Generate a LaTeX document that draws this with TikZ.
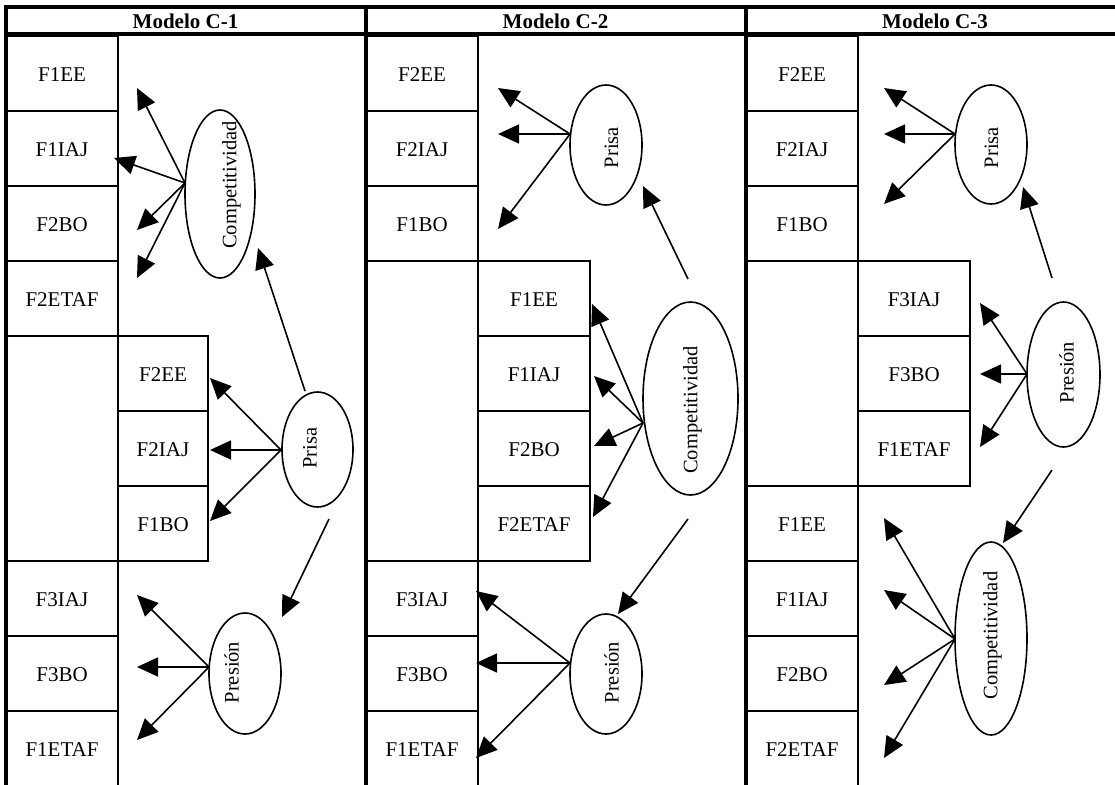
\documentclass[tikz,border=0pt]{standalone}
\usepackage{fontspec}
\setmainfont{Liberation Serif}
\usetikzlibrary{arrows.meta,shapes.geometric}
\begin{document}
\begin{tikzpicture}[x=1pt,y=-1pt,
  cell/.style={draw,line width=2pt,inner sep=0pt,minimum width=112pt,minimum height=75pt,
    font=\fontsize{21}{24}\selectfont,text height=15.5pt,text depth=0pt},
  narrow/.style={minimum width=90pt},
  head/.style={font=\fontsize{21}{24}\selectfont\bfseries,anchor=base,inner sep=0pt},
  ell/.style={draw,ellipse,line width=1.6pt,inner sep=0pt},
  etext/.style={rotate=90,inner sep=0pt,font=\fontsize{20.5}{24}\selectfont},
  arr/.style={line width=1.6pt,-{Triangle[length=21pt,width=19pt]}},
  frame/.style={line width=4pt}]
\useasboundingbox (0,0) rectangle (1115,784);
\fill[white] (0,0) rectangle (1115,784);
\clip (0,0) rectangle (1115,784);

% ---------- Modelo C-1 ----------
\node[cell] (a1) at (62,73.5)  {F1EE};
\node[cell] (a2) at (62,148.5) {F1IAJ};
\node[cell] (a3) at (62,223.5) {F2BO};
\node[cell] (a4) at (62,298.5) {F2ETAF};
\node[cell,minimum height=225pt] (a0) at (62,448.5) {};
\node[cell,narrow] (a5) at (163,373.5) {F2EE};
\node[cell,narrow] (a6) at (163,448.5) {F2IAJ};
\node[cell,narrow] (a7) at (163,523.5) {F1BO};
\node[cell] (a8) at (62,598.5)  {F3IAJ};
\node[cell] (a9) at (62,673.5)  {F3BO};
\node[cell] (a10) at (62,748.5) {F1ETAF};

\node[ell,minimum width=70pt,minimum height=168pt] (comp1) at (220,194) {};
\node[etext] (comp1t) at (231.5,185) {Competitividad};
\node[ell,minimum width=71pt,minimum height=115pt] (prisa1) at (317.5,449.5) {};
\node[etext] (prisa1t) at (310,448) {Prisa};
\node[ell,minimum width=72pt,minimum height=121pt] (pres1) at (245,673.5) {};
\node[etext] (pres1t) at (231.5,672.5) {Presión};

\coordinate (o11) at (185,183);
\coordinate (t11) at (137,88);
\coordinate (t12) at (114,158);
\coordinate (t13) at (137,230);
\coordinate (t14) at (137,278);
\foreach \t in {t11,t12,t13,t14} \draw[arr] (o11) -- (\t);

\coordinate (o12) at (281,450);
\coordinate (t15) at (210,378);
\coordinate (t16) at (210,450);
\coordinate (t17) at (210,521);
\foreach \t in {t15,t16,t17} \draw[arr] (o12) -- (\t);

\coordinate (s11) at (305,391);
\coordinate (e11) at (258,248);
\draw[arr] (s11) -- (e11);
\coordinate (s12) at (329,519);
\coordinate (e12) at (282,617);
\draw[arr] (s12) -- (e12);

\coordinate (o13) at (209,667);
\coordinate (t18) at (137,595);
\coordinate (t19) at (137,667);
\coordinate (t110) at (137,740);
\foreach \t in {t18,t19,t110} \draw[arr] (o13) -- (\t);

% ---------- Modelo C-2 ----------
\node[cell] (b1) at (422,73.5)  {F2EE};
\node[cell] (b2) at (422,148.5) {F2IAJ};
\node[cell] (b3) at (422,223.5) {F1BO};
\node[cell,minimum height=300pt] (b0) at (422,411) {};
\node[cell] (b4) at (534,298.5) {F1EE};
\node[cell] (b5) at (534,373.5) {F1IAJ};
\node[cell] (b6) at (534,448.5) {F2BO};
\node[cell] (b7) at (534,523.5) {F2ETAF};
\node[cell] (b8) at (422,598.5)  {F3IAJ};
\node[cell] (b9) at (422,673.5)  {F3BO};
\node[cell] (b10) at (422,748.5) {F1ETAF};

\node[ell,minimum width=72pt,minimum height=120pt] (prisa2) at (606,145) {};
\node[etext] (prisa2t) at (611.5,147.5) {Prisa};
\node[ell,minimum width=95pt,minimum height=193pt] (comp2) at (690.5,398.5) {};
\node[etext] (comp2t) at (692.5,410) {Competitividad};
\node[ell,minimum width=72pt,minimum height=120pt] (pres2) at (606,674) {};
\node[etext] (pres2t) at (611.5,672.5) {Presión};

\coordinate (o21) at (570,134);
\coordinate (t21) at (498,88);
\coordinate (t22) at (498,134);
\coordinate (t23) at (498,229);
\foreach \t in {t21,t22,t23} \draw[arr] (o21) -- (\t);

\coordinate (s21) at (688,279);
\coordinate (e21) at (643,186);
\draw[arr] (s21) -- (e21);

\coordinate (o22) at (643,423);
\coordinate (t24) at (592,304);
\coordinate (t25) at (594,376);
\coordinate (t26) at (594,446);
\coordinate (t27) at (593,517);
\foreach \t in {t24,t25,t26,t27} \draw[arr] (o22) -- (\t);

\coordinate (s22) at (688,519);
\coordinate (e22) at (618,614);
\draw[arr] (s22) -- (e22);

\coordinate (o23) at (570,663);
\coordinate (t28) at (476,591);
\coordinate (t29) at (476,663);
\coordinate (t210) at (476,758);
\foreach \t in {t28,t29,t210} \draw[arr] (o23) -- (\t);

% ---------- Modelo C-3 ----------
\node[cell] (c1) at (802,73.5)  {F2EE};
\node[cell] (c2) at (802,148.5) {F2IAJ};
\node[cell] (c3) at (802,223.5) {F1BO};
\node[cell,minimum height=225pt] (c0) at (802,373.5) {};
\node[cell] (c4) at (914,298.5) {F3IAJ};
\node[cell] (c5) at (914,373.5) {F3BO};
\node[cell] (c6) at (914,448.5) {F1ETAF};
\node[cell] (c7) at (802,523.5)  {F1EE};
\node[cell] (c8) at (802,598.5)  {F1IAJ};
\node[cell] (c9) at (802,673.5)  {F2BO};
\node[cell] (c10) at (802,748.5) {F2ETAF};

\node[ell,minimum width=72pt,minimum height=119pt] (prisa3) at (991,144.5) {};
\node[etext] (prisa3t) at (991.5,147.5) {Prisa};
\node[ell,minimum width=73pt,minimum height=145pt] (pres3) at (1063.5,374.5) {};
\node[etext] (pres3t) at (1066.5,372.5) {Presión};
\node[ell,minimum width=72pt,minimum height=193pt] (comp3) at (991,638.5) {};
\node[etext] (comp3t) at (992.5,635.5) {Competitividad};

\coordinate (o31) at (955,134);
\coordinate (t31) at (884,88);
\coordinate (t32) at (884,134);
\coordinate (t33) at (884,204);
\foreach \t in {t31,t32,t33} \draw[arr] (o31) -- (\t);

\coordinate (s31) at (1052,278);
\coordinate (e31) at (1023,187);
\draw[arr] (s31) -- (e31);

\coordinate (o32) at (1027,374);
\coordinate (t34) at (980,303);
\coordinate (t35) at (980,374);
\coordinate (t36) at (980,447);
\foreach \t in {t34,t35,t36} \draw[arr] (o32) -- (\t);

\coordinate (s32) at (1052,470);
\coordinate (e32) at (1003,543);
\draw[arr] (s32) -- (e32);

\coordinate (o33) at (955,639);
\coordinate (t37) at (884,518);
\coordinate (t38) at (884,590);
\coordinate (t39) at (884,685);
\coordinate (t310) at (884,758);
\foreach \t in {t37,t38,t39,t310} \draw[arr] (o33) -- (\t);

% ---------- table frame and headings ----------
\draw[frame] (4,7) -- (1130,7);
\draw[frame] (4,34.5) -- (1130,34.5);
\draw[frame] (6,5) -- (6,800);
\draw[frame] (366,5) -- (366,800);
\draw[frame] (746,5) -- (746,800);
\draw[frame] (1124,5) -- (1124,800);

\node[head] (h1) at (185.5,29) {Modelo C-1};
\node[head] (h2) at (555.5,29) {Modelo C-2};
\node[head] (h3) at (935,29) {Modelo C-3};
\end{tikzpicture}
\end{document}
